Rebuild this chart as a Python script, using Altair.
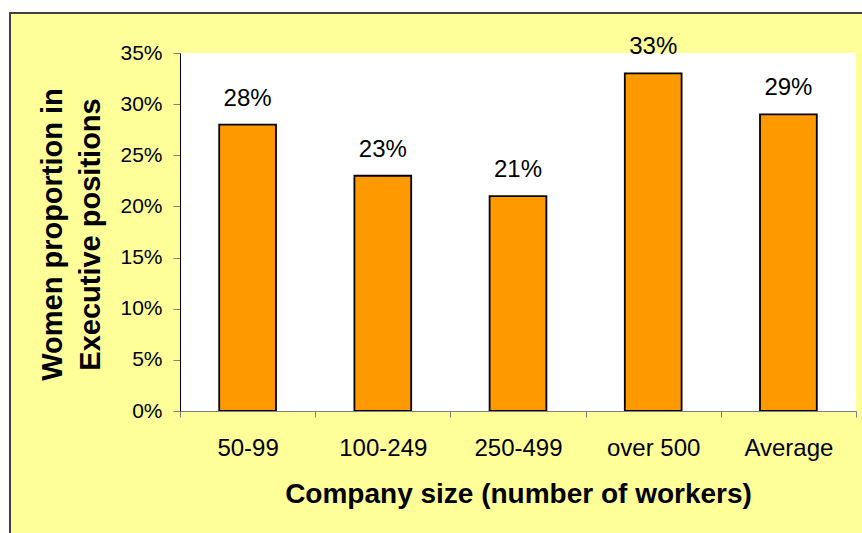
import altair as alt
import pandas as pd

categories = ["50-99", "100-249", "250-499", "over 500", "Average"]
values = [28, 23, 21, 33, 29]
y_ticks = [0, 5, 10, 15, 20, 25, 30, 35]

W, H = 676, 358
FONT = "Liberation Sans"

df = pd.DataFrame({"size": categories, "value": values})
one = pd.DataFrame({"k": [0]})

frame = alt.Chart(one).mark_rect(fill="#FFFF99", stroke="#404040", strokeWidth=2).encode(
    x=alt.value(-170), x2=alt.value(740), y=alt.value(-40), y2=alt.value(540)
)
plotbg = alt.Chart(one).mark_rect(fill="white").encode(
    x=alt.value(0), x2=alt.value(W), y=alt.value(0), y2=alt.value(H)
)

xenc = alt.X(
    "size:N",
    sort=categories,
    scale=alt.Scale(paddingInner=0, paddingOuter=0),
    axis=alt.Axis(
        title="Company size (number of workers)",
        labelAngle=0,
        tickBand="extent",
        tickSize=6,
        labelPadding=38,
        labelBaseline="alphabetic",
        labelFontSize=24,
        labelFont=FONT,
        labelColor="black",
        domainColor="#808080",
        tickColor="#808080",
        grid=False,
        titleFont=FONT,
        titleFontSize=28,
        titleFontWeight="bold",
        titleColor="black",
        titleBaseline="alphabetic",
        titleY=91,
        zindex=1,
    ),
)
yenc = alt.Y(
    "value:Q",
    scale=alt.Scale(domain=[0, 35], nice=False),
    axis=alt.Axis(
        values=y_ticks,
        labelExpr="datum.value + '%'",
        tickSize=7,
        labelPadding=11,
        labelFontSize=21,
        labelFont=FONT,
        labelColor="black",
        domainColor="black",
        tickColor="#808080",
        grid=False,
        title=["Women proportion in", "Executive positions"],
        titleFont=FONT,
        titleFontSize=29,
        titleFontWeight="bold",
        titleColor="black",
        titleAngle=270,
        titleAlign="center",
        titleBaseline="alphabetic",
        titleLineHeight=38,
        titleX=-119,
        titleY=181,
        zindex=1,
    ),
)

bars = alt.Chart(df).mark_bar(
    width=alt.RelativeBandSize(0.42), color="#FF9900", stroke="black", strokeWidth=1.8
).encode(x=xenc, y=yenc)

labels = alt.Chart(df).transform_calculate(label="datum.value + '%'").mark_text(
    baseline="alphabetic", dy=-19, fontSize=24, font=FONT, color="black"
).encode(x=alt.X("size:N", sort=categories), y="value:Q", text="label:N")

chart = alt.layer(frame, plotbg, bars, labels).properties(
    width=W,
    height=H,
    background="white",
    autosize=alt.AutoSizeParams(type="none"),
    padding={"left": 180, "top": 53, "right": 6, "bottom": 122},
).configure_view(strokeWidth=0)

chart.save("out.html", embed_options={"renderer": "svg", "actions": False})
